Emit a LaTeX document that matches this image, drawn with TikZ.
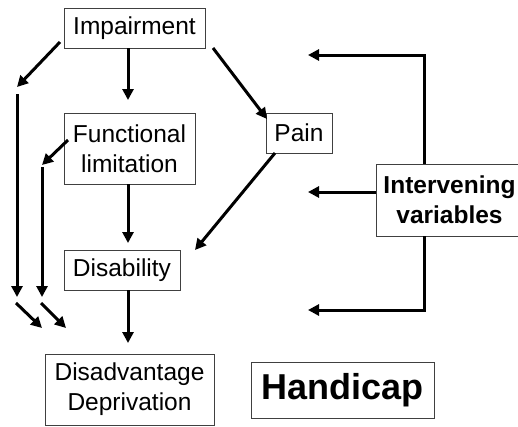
\documentclass[tikz,border=0pt]{standalone}
\usepackage{fontspec}
\setmainfont{Liberation Sans}
\usetikzlibrary{arrows.meta}
\begin{document}
\begin{tikzpicture}[x=1pt,y=-1pt,
  box/.style={draw=black!75,line width=0.8pt,inner sep=0pt,align=center,
    font=\fontsize{24.5}{30}\selectfont},
  arr/.style={line width=3pt,-{Triangle[length=11pt,width=11pt]}},
  ln/.style={line width=3pt}]
\useasboundingbox (0,0) rectangle (518,426);
\node[box,minimum width=141pt,minimum height=40pt] (imp) at (134.5,28) {Impairment};
\node[box,minimum width=131pt,minimum height=71pt] (fl) at (129.5,148.5) {Functional\\limitation};
\node[box,minimum width=116pt,minimum height=40pt] (dis) at (122,270) {Disability};
\node[box,minimum width=169pt,minimum height=71pt] (dd) at (129.5,389.5) {Disadvantage\\Deprivation};
\node[box,minimum width=66pt,minimum height=40pt] (pain) at (299,133) {Pain};
\node[box,minimum width=146pt,minimum height=72pt,font=\fontsize{24.5}{30}\selectfont\bfseries] (iv) at (449.5,200) {Intervening\\variables};
\node[box,minimum width=183pt,minimum height=56pt,font=\fontsize{36}{40}\selectfont\bfseries] (hc) at (342.5,390) {Handicap};
% vertical chain
\coordinate (a1s) at (128,48); \coordinate (a1e) at (128,100);
\coordinate (a2s) at (128,184); \coordinate (a2e) at (128,243);
\coordinate (a3s) at (128,290); \coordinate (a3e) at (128,343);
\draw[arr] (a1s) -- (a1e);
\draw[arr] (a2s) -- (a2e);
\draw[arr] (a3s) -- (a3e);
% left bypass lines
\coordinate (l1s) at (60,42); \coordinate (l1e) at (17,87);
\coordinate (v1s) at (17,94); \coordinate (v1e) at (17,297);
\coordinate (d1s) at (16,303); \coordinate (d1e) at (42,328);
\draw[arr] (l1s) -- (l1e);
\draw[arr] (v1s) -- (v1e);
\draw[arr] (d1s) -- (d1e);
\coordinate (l2s) at (68,140); \coordinate (l2e) at (42,165);
\coordinate (v2s) at (42,167); \coordinate (v2e) at (42,297);
\coordinate (d2s) at (41,303); \coordinate (d2e) at (66,328);
\draw[arr] (l2s) -- (l2e);
\draw[arr] (v2s) -- (v2e);
\draw[arr] (d2s) -- (d2e);
% pain
\coordinate (p1s) at (213,48); \coordinate (p1e) at (267,119);
\draw[arr] (p1s) -- (p1e);
\coordinate (p2s) at (275,153); \coordinate (p2e) at (195,250);
\draw[arr] (p2s) -- (p2e);
% intervening variables
\coordinate (t1) at (424,55); \coordinate (t1e) at (308,55);
\draw[arr] (iv.north -| t1) -- (t1) -- (t1e);
\coordinate (m1e) at (308,192);
\draw[arr] (iv.west |- m1e) -- (m1e);
\coordinate (b1) at (424,310); \coordinate (b1e) at (308,310);
\draw[arr] (iv.south -| b1) -- (b1) -- (b1e);
\end{tikzpicture}
\end{document}
